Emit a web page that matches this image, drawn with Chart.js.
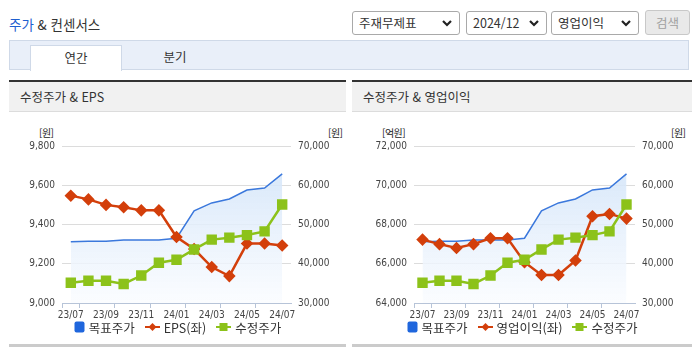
<!DOCTYPE html>
<html lang="ko">
<head>
<meta charset="utf-8">
<title>주가 &amp; 컨센서스</title>
<script src="https://cdn.jsdelivr.net/npm/chart.js@4.4.1/dist/chart.umd.min.js"></script>
<style>
  body { margin: 0; width: 695px; height: 349px; overflow: hidden; position: relative; background: #fff;
         font-family: "Noto Sans CJK KR", "Noto Sans", sans-serif; color: #333; }
  .abs { position: absolute; }
  .title { left: 9px; top: 13px; font-size: 13.5px; line-height: 22px; color: #333; }
  .title b { font-weight: normal; color: #1f5fcf; }
  .sel { top: 11px; height: 22px; border: 1px solid #a9a9a9; border-radius: 3px; background: #fff;
         font-size: 12.5px; line-height: 22px; padding-left: 6px; box-sizing: content-box; }
  .sel svg { position: absolute; right: 7px; top: 8px; }
  .btn { left: 645px; top: 10px; width: 43px; height: 23px; border: 1px solid #c8c8c8; border-radius: 3px;
         background: #e9e9e9; color: #a0a0a0; font-size: 12.5px; line-height: 23px; text-align: center; }
  .tabbar { left: 9px; top: 40px; width: 678px; height: 28px; background: #e9eff9; border: 1px solid #cfd9e8; }
  .tab { top: 4px; height: 25px; font-size: 12.5px; line-height: 24px; text-align: center; }
  .tab.on { left: 20px; width: 90px; background: #fff; border: 1px solid #cfd9e8; border-bottom: none; }
  .tab.off { left: 120px; width: 90px; }
  .panel { top: 80px; height: 262px; border-top: 2px solid #333; border-bottom: 3px solid #cbcbcb; }
  .phead { left: 0; right: 0; top: 0; height: 29px; background: #f1f1f1; border-bottom: 1px solid #dcdcdc;
           font-size: 12.5px; line-height: 29px; padding-left: 11px; }
  .unit { top: 125px; font-size: 10px; letter-spacing: -0.5px; color: #222; }
  .legend { top: 317px; height: 20px; display: flex; justify-content: center; align-items: center; font-size: 12.5px; color: #333; }
  .legend span.item { display: flex; align-items: center; margin: 0 5px; }
  .legend svg { margin-right: 4px; }
  canvas { position: absolute; }
</style>
</head>
<body>

<div class="abs title"><b>주가</b> &amp; 컨센서스</div>

<div class="abs sel" style="left:352px;width:100px">주재무제표<svg width="10" height="7" viewBox="0 0 10 7"><path d="M1 1 L5 5 L9 1" fill="none" stroke="#222" stroke-width="2.2"/></svg></div>
<div class="abs sel" style="left:466px;width:73px">2024/12<svg width="10" height="7" viewBox="0 0 10 7"><path d="M1 1 L5 5 L9 1" fill="none" stroke="#222" stroke-width="2.2"/></svg></div>
<div class="abs sel" style="left:551px;width:80px">영업이익<svg width="10" height="7" viewBox="0 0 10 7"><path d="M1 1 L5 5 L9 1" fill="none" stroke="#222" stroke-width="2.2"/></svg></div>
<div class="abs btn">검색</div>

<div class="abs tabbar">
  <div class="abs tab on">연간</div>
  <div class="abs tab off">분기</div>
</div>

<div class="abs panel" style="left:9px;width:337px"><div class="abs phead">수정주가 &amp; EPS</div></div>
<div class="abs panel" style="left:352px;width:340px"><div class="abs phead">수정주가 &amp; 영업이익</div></div>

<div class="abs unit" style="left:39px">[원]</div>
<div class="abs unit" style="left:328px">[원]</div>
<div class="abs unit" style="left:382px">[억원]</div>
<div class="abs unit" style="left:671px">[원]</div>

<canvas id="epsChart" width="337" height="189" style="left:9px;top:133px"></canvas>
<canvas id="opChart" width="340" height="189" style="left:352px;top:133px"></canvas>

<div class="abs legend" id="epsLegend" style="left:9px;width:337px"></div>
<div class="abs legend" id="opLegend" style="left:352px;width:340px"></div>

<script>
// monthly data, 23/07 ~ 24/07
const months = ['23/07', '23/08', '23/09', '23/10', '23/11', '23/12', '24/01',
                '24/02', '24/03', '24/04', '24/05', '24/06', '24/07'];

// 목표주가 (원)
const targetPrice = [45600, 45750, 45750, 46050, 46050, 46050, 46500, 53500, 55500, 56500, 58800, 59300, 62900];
// 수정주가 (원)
const adjPrice = [35150, 35650, 35650, 34850, 37000, 40250, 41000, 43650, 46150, 46650, 47300, 48250, 55100];
// EPS (원)
const eps = [9547, 9528, 9500, 9488, 9472, 9472, 9336, 9275, 9183, 9137, 9303, 9303, 9293];
// 영업이익 (억원)
const opProfit = [67230, 67000, 66800, 67000, 67300, 67300, 66080, 65430, 65430, 66170, 68420, 68540, 68300];

const priceTicks = { min: 30000, max: 70000, step: 10000 };
const epsTicks = { min: 9000, max: 9800, step: 200 };
const opTicks = { min: 64000, max: 72000, step: 2000 };

const BLUE = '#3b78dc';
const RED = '#d33f0b';
const GREEN = '#8cc21a';
const tickFont = { family: '"Liberation Sans Narrow", "DejaVu Sans Condensed", "Liberation Sans", sans-serif', size: 10 };

function blueFill(ctx) {
    const area = ctx.chart.chartArea;
    if (!area) return 'rgba(0,0,0,0)';
    const g = ctx.chart.ctx.createLinearGradient(0, area.top, 0, area.bottom);
    g.addColorStop(0, 'rgba(205,225,248,0.9)');
    g.addColorStop(1, 'rgba(250,252,255,0.8)');
    return g;
}

function fmt(v) {
    return v.toLocaleString('en-US');
}

function makeChart(id, leftData, leftLabel, leftRange, leftWidth, rightWidth) {
    const el = document.getElementById(id);

    return new Chart(el, {
        type: 'line',
        data: {
            labels: months,
            datasets: [
                {
                    label: '목표주가',
                    data: targetPrice,
                    yAxisID: 'y1',
                    borderColor: BLUE,
                    borderWidth: 1.5,
                    pointRadius: 0,
                    fill: 'start',
                    backgroundColor: blueFill,
                    order: 2
                },
                {
                    label: leftLabel,
                    data: leftData,
                    yAxisID: 'y',
                    borderColor: RED,
                    borderWidth: 2.5,
                    pointStyle: 'rectRot',
                    pointRadius: 4.5,
                    pointBackgroundColor: RED,
                    pointBorderColor: RED,
                    order: 1
                },
                {
                    label: '수정주가',
                    data: adjPrice,
                    yAxisID: 'y1',
                    borderColor: GREEN,
                    borderWidth: 2.5,
                    pointStyle: 'rect',
                    pointRadius: 5.6,
                    pointBackgroundColor: GREEN,
                    pointBorderColor: GREEN,
                    order: 0
                }
            ]
        },
        options: {
            responsive: false,
            animation: false,
            layout: { padding: { top: 10 } },
            plugins: {
                legend: { display: false },
                tooltip: { enabled: false }
            },
            scales: {
                x: {
                    offset: true,
                    afterFit: s => { s.height = 19; },
                    border: { color: '#b7c4d8' },
                    grid: {
                        offset: true,
                        drawOnChartArea: false,
                        tickLength: 5,
                        // tick marks only every second month boundary (and at both ends)
                        tickColor: c => (c.index % 2 === 1 || c.index === 0 || c.index === months.length) ? '#b7c4d8' : 'rgba(0,0,0,0)'
                    },
                    ticks: {
                        autoSkip: false,
                        maxRotation: 0,
                        padding: 1,
                        font: tickFont,
                        color: '#444',
                        callback: (v, i) => i % 2 === 0 ? months[i] : ''
                    }
                },
                y: {
                    position: 'left',
                    min: leftRange.min,
                    max: leftRange.max,
                    afterFit: s => { s.width = leftWidth; },
                    border: { display: false },
                    grid: { color: '#dcdcdc', drawTicks: false },
                    ticks: { stepSize: leftRange.step, padding: 7, font: tickFont, color: '#444', callback: v => fmt(v) }
                },
                y1: {
                    position: 'right',
                    min: priceTicks.min,
                    max: priceTicks.max,
                    afterFit: s => { s.width = rightWidth; },
                    border: { display: false },
                    grid: { display: false, drawTicks: false },
                    ticks: { stepSize: priceTicks.step, padding: 7, font: tickFont, color: '#444', callback: v => fmt(v) }
                }
            }
        }
    });
}

function buildLegend(id, leftLabel) {
    const box = document.getElementById(id);
    box.innerHTML =
        `<span class="item"><svg width="11" height="12"><rect x="0.5" y="0.5" width="10" height="11" rx="2" fill="#1f66dd"/></svg>목표주가</span>` +
        `<span class="item"><svg width="15" height="10"><line x1="0" y1="5" x2="15" y2="5" stroke="${RED}" stroke-width="2"/><path d="M7.5 1 L11.5 5 L7.5 9 L3.5 5 Z" fill="${RED}"/></svg>${leftLabel}</span>` +
        `<span class="item"><svg width="15" height="10"><line x1="0" y1="5" x2="15" y2="5" stroke="${GREEN}" stroke-width="2"/><rect x="3.5" y="1" width="8" height="8" fill="${GREEN}"/></svg>수정주가</span>`;
}

makeChart('epsChart', eps, 'EPS(좌)', epsTicks, 53, 55);
makeChart('opChart', opProfit, '영업이익(좌)', opTicks, 62, 57);
buildLegend('epsLegend', 'EPS(좌)');
buildLegend('opLegend', '영업이익(좌)');
</script>
</body>
</html>
